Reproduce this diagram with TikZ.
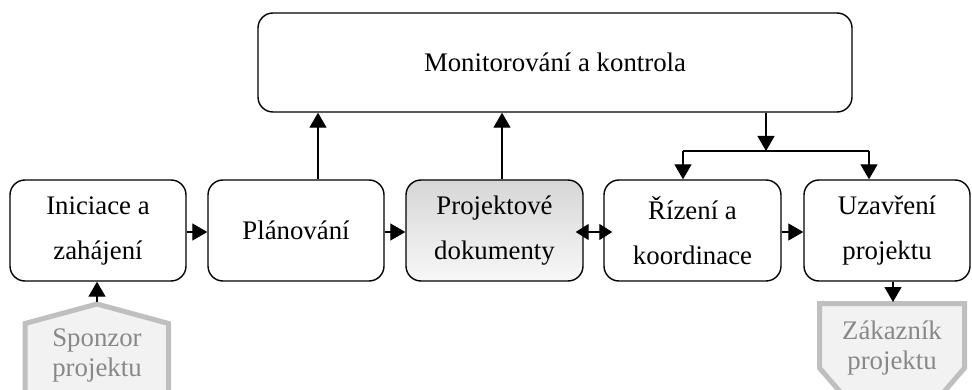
\documentclass[tikz,border=0pt]{standalone}
\usepackage{fontspec}
\setmainfont{Liberation Serif}
\usetikzlibrary{arrows.meta}
\definecolor{pgray}{HTML}{BFBFBF}
\definecolor{pfill}{HTML}{F2F2F2}
\definecolor{ptext}{HTML}{888888}
\begin{document}
\begin{tikzpicture}[x=1pt,y=-1pt,
  box/.style={draw, line width=1.4pt, rounded corners=15pt, minimum height=101pt,
    align=center, inner sep=0pt, font=\fontsize{26.8}{45}\selectfont},
  arr/.style={line width=1.3pt, -{Triangle[length=15pt,width=17pt]}},
  dbl/.style={line width=1.3pt, {Triangle[length=13pt,width=16pt]}-{Triangle[length=13pt,width=16pt]},
    shorten <=-8pt, shorten >=-9pt},
  pbord/.style={draw=pgray, line width=5pt, fill=pfill, line join=miter},
  ptxt/.style={text=ptext, align=center, inner sep=0pt, font=\fontsize{26.8}{30}\selectfont}]
\useasboundingbox (0,0) rectangle (972,390);

% main boxes
\node[box, minimum width=594pt, minimum height=99pt] (top) at (555,62.5) {Monitorování a kontrola};
\node[box, minimum width=176pt] (b1) at (98,230.5) {Iniciace a\\zahájení};
\node[box, minimum width=176pt] (b2) at (296,230.5) {Plánování};
\node[box, minimum width=177pt, top color=gray!32, bottom color=gray!6] (b3) at (494.5,230.5) {Projektové\\dokumenty};
\node[box, minimum width=177pt] (b4) at (692.5,230.5) {Řízení a\\koordinace};
\node[box, minimum width=166pt] (b5) at (887,230.5) {Uzavření\\projektu};

% external pentagons
\begin{scope}
\clip (0,0) rectangle (972,390);
\draw[pbord] (25,323.5) -- (97,304) -- (168.5,323.5) -- (168.5,430) -- (25,430) -- cycle;
\draw[pbord] (819.5,303.5) -- (964.5,303.5) -- (964.5,368) -- (892,452) -- (819.5,368) -- cycle;
\end{scope}
\node[ptxt] (spon) at (97,355) {Sponzor\\projektu};
\node[ptxt] (zak) at (892,348) {Zákazník\\projektu};
\coordinate (sapex) at (97,302);
\coordinate (ztop) at (893,302);

% horizontal flow
\draw[arr] ([yshift=-1.5pt]b1.east) -- ([yshift=-1.5pt]b2.west);
\draw[arr] ([yshift=-1.5pt]b2.east) -- ([yshift=-1.5pt]b3.west);
\draw[dbl] ([yshift=-1.5pt]b3.east) -- ([yshift=-1.5pt]b4.west);
\draw[arr] ([yshift=-1.5pt]b4.east) -- ([yshift=-1.5pt]b5.west);

% up to monitoring
\draw[arr] ([xshift=22pt]b2.north) -- ([xshift=22pt]b2.north |- top.south);
\draw[arr] ([xshift=7.5pt]b3.north) -- ([xshift=7.5pt]b3.north |- top.south);

% down from monitoring
\coordinate (sp) at (766,151);
\coordinate (spl) at (683,151);
\coordinate (spr) at (869,151);
\draw[arr] (top.south -| sp) -- (sp);
\draw[line width=1.3pt] (spl) -- (spr);
\draw[arr] (spl) -- (spl |- b4.north);
\draw[arr] (spr) -- (spr |- b5.north);

% external connectors
\draw[arr] (sapex) -- (b1.south -| sapex);
\draw[arr] (b5.south -| ztop) -- (ztop);
\end{tikzpicture}
\end{document}
